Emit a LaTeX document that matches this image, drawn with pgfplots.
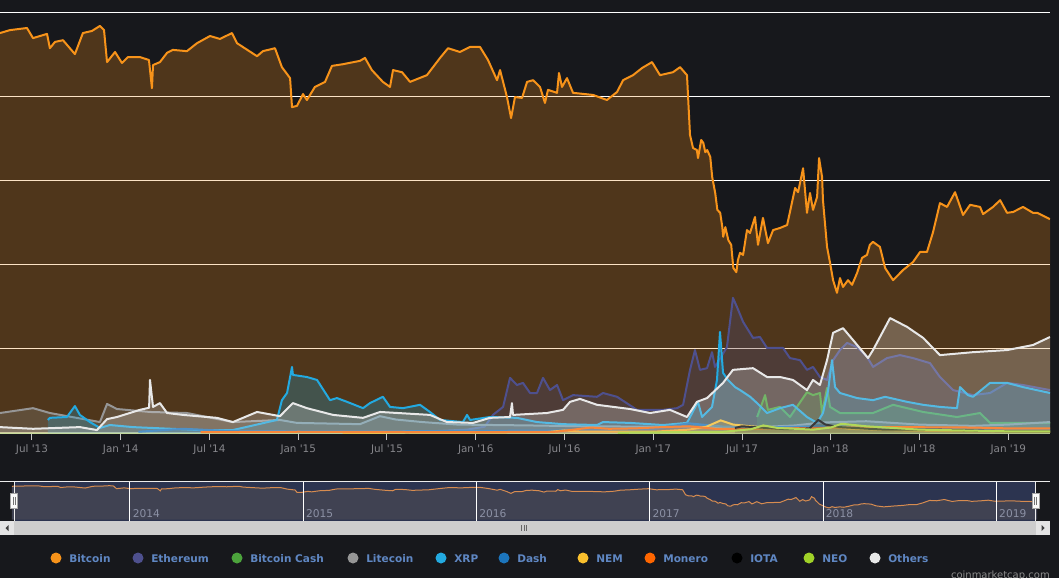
\documentclass[border=0pt]{standalone}
\usepackage{fontspec}
\setmainfont{DejaVu Sans}
\usepackage{pgfplots}
\pgfplotsset{compat=1.18}
\usepackage{pgfplotstable}

\definecolor{bg}{RGB}{23,24,28}
\definecolor{cBTC}{RGB}{247,147,26}
\definecolor{cETH}{RGB}{78,80,142}
\definecolor{cBCH}{RGB}{76,163,60}
\definecolor{cLTC}{RGB}{150,150,150}
\definecolor{cXRP}{RGB}{35,170,225}
\definecolor{cDASH}{RGB}{28,117,188}
\definecolor{cNEM}{RGB}{250,192,45}
\definecolor{cXMR}{RGB}{255,102,0}
\definecolor{cIOTA}{RGB}{0,0,0}
\definecolor{cNEO}{RGB}{160,210,40}
\definecolor{cOTH}{RGB}{232,232,232}
\definecolor{legtext}{RGB}{95,135,195}
\definecolor{ticktext}{RGB}{135,135,140}
\definecolor{tickmark}{RGB}{200,200,200}
\definecolor{navy}{RGB}{44,52,80}
\definecolor{navfill}{RGB}{64,66,82}
\definecolor{navline}{RGB}{215,140,80}
\definecolor{navtext}{RGB}{140,145,165}
\definecolor{scroll}{RGB}{205,205,205}
\definecolor{scrollbtn}{RGB}{228,228,228}
\definecolor{axisgreen}{RGB}{200,225,160}

\pgfplotstableread{
t v
2013.320 95.0
2013.376 95.7
2013.472 96.2
2013.506 93.8
2013.585 94.8
2013.601 91.4
2013.630 92.9
2013.675 93.3
2013.742 90.0
2013.787 95.0
2013.838 95.5
2013.883 96.7
2013.906 95.7
2013.923 88.1
2013.968 90.5
2014.007 87.9
2014.041 89.3
2014.108 89.3
2014.159 88.6
2014.176 81.9
2014.182 87.4
2014.221 88.1
2014.261 90.3
2014.294 91.0
2014.373 90.7
2014.430 92.6
2014.503 94.3
2014.559 93.6
2014.627 95.0
2014.655 92.6
2014.768 89.5
2014.801 90.7
2014.869 91.4
2014.908 86.9
2014.954 84.3
2014.965 77.4
2014.993 77.7
2015.027 80.5
2015.049 79.1
2015.094 82.2
2015.151 83.4
2015.190 87.2
2015.252 87.6
2015.348 88.4
2015.376 89.1
2015.415 86.2
2015.477 83.4
2015.517 82.2
2015.534 86.2
2015.585 85.7
2015.630 83.4
2015.725 85.0
2015.799 89.1
2015.844 91.4
2015.911 90.5
2015.968 91.7
2016.024 91.7
2016.069 88.6
2016.120 83.8
2016.137 86.2
2016.176 79.8
2016.199 74.8
2016.221 79.8
2016.261 79.6
2016.289 83.4
2016.323 83.8
2016.362 82.2
2016.390 78.4
2016.407 81.5
2016.458 80.8
2016.469 85.5
2016.486 82.2
2016.514 84.3
2016.548 80.8
2016.661 80.3
2016.739 79.1
2016.796 81.0
2016.830 83.8
2016.886 85.0
2016.937 86.7
2016.993 88.1
2017.038 85.0
2017.111 85.7
2017.151 86.9
2017.190 85.0
2017.207 70.8
2017.224 67.7
2017.246 67.2
2017.252 65.3
2017.270 69.6
2017.282 68.9
2017.293 66.7
2017.304 67.2
2017.321 65.6
2017.332 60.8
2017.349 57.0
2017.361 53.0
2017.377 52.3
2017.389 48.9
2017.394 46.6
2017.406 48.9
2017.423 45.8
2017.439 44.7
2017.451 39.2
2017.468 38.2
2017.477 41.1
2017.489 42.8
2017.506 42.3
2017.528 48.2
2017.545 47.5
2017.573 51.3
2017.590 44.7
2017.618 51.1
2017.646 45.1
2017.675 48.2
2017.714 48.7
2017.754 49.4
2017.770 52.5
2017.799 58.2
2017.816 57.2
2017.844 62.9
2017.866 52.3
2017.883 57.0
2017.900 53.0
2017.923 56.1
2017.934 65.3
2017.951 60.8
2017.956 55.3
2017.979 44.2
2017.996 40.4
2018.013 36.3
2018.035 33.3
2018.052 36.8
2018.069 34.7
2018.097 36.3
2018.120 35.2
2018.148 38.0
2018.176 41.6
2018.204 42.3
2018.220 44.7
2018.238 45.4
2018.277 44.2
2018.306 39.2
2018.351 36.3
2018.407 38.7
2018.463 40.6
2018.503 43.0
2018.542 43.0
2018.576 47.7
2018.615 54.6
2018.655 53.7
2018.700 57.2
2018.745 51.8
2018.785 54.2
2018.841 53.7
2018.858 52.0
2018.914 53.7
2018.954 55.3
2018.993 52.3
2019.027 52.5
2019.083 53.7
2019.139 52.3
2019.163 52.3
2019.235 50.8
}\tBTC

\pgfplotstableread{
t v
2015.600 0.2
2015.800 0.5
2015.950 0.8
2016.050 1.5
2016.097 4.3
2016.154 6.2
2016.193 13.1
2016.232 11.4
2016.266 11.9
2016.306 9.5
2016.345 9.5
2016.379 13.1
2016.418 10.2
2016.458 11.4
2016.492 7.8
2016.548 9.0
2016.683 8.6
2016.717 9.5
2016.796 8.6
2016.908 5.5
2017.055 5.5
2017.134 5.9
2017.168 6.7
2017.207 15.0
2017.235 19.7
2017.263 15.0
2017.303 15.4
2017.331 19.2
2017.348 15.7
2017.415 20.4
2017.449 32.1
2017.472 29.9
2017.506 26.4
2017.562 22.6
2017.601 22.8
2017.641 20.2
2017.731 20.2
2017.770 17.8
2017.827 17.3
2017.866 15.0
2017.900 15.7
2017.939 13.3
2017.979 12.6
2018.013 17.3
2018.052 19.7
2018.092 21.4
2018.148 20.4
2018.204 18.1
2018.238 15.7
2018.317 17.8
2018.390 18.5
2018.463 17.8
2018.559 16.6
2018.615 13.3
2018.689 10.2
2018.801 9.0
2018.897 9.5
2018.993 11.9
2019.083 11.4
2019.235 10.2
}\tETH

\pgfplotstableread{
t v
2017.585 3.8
2017.630 9.0
2017.646 5.5
2017.714 6.2
2017.770 3.8
2017.866 9.7
2017.900 9.0
2017.939 9.5
2017.951 4.75
2017.979 10.7
2017.996 6.2
2018.052 4.75
2018.238 4.75
2018.351 6.7
2018.520 5.0
2018.711 3.8
2018.841 4.75
2018.897 2.4
2018.993 2.4
2019.235 2.4
}\tBCH

\pgfplotstableread{
t v
2013.320 4.75
2013.506 5.9
2013.601 4.75
2013.883 2.6
2013.923 6.9
2013.979 5.7
2014.165 5.0
2014.373 4.75
2014.632 2.6
2014.897 3.1
2014.993 2.4
2015.348 2.1
2015.460 4.0
2015.550 3.2
2015.700 2.6
2015.900 2.0
2016.300 1.8
2016.600 1.6
2017.000 1.5
2017.300 1.5
2017.500 1.2
2017.800 1.8
2017.950 2.5
2018.200 2.8
2018.500 2.0
2018.800 1.7
2019.000 2.0
2019.235 2.6
}\tLTC

\pgfplotstableread{
t v
2013.590 3.1
2013.601 3.6
2013.697 3.8
2013.742 6.4
2013.770 4.3
2013.827 2.6
2013.883 1.2
2013.939 1.9
2014.069 1.4
2014.446 0.7
2014.632 0.7
2014.880 3.1
2014.908 7.8
2014.937 9.5
2014.965 15.7
2014.970 13.8
2015.049 13.3
2015.106 12.6
2015.179 7.8
2015.218 8.3
2015.275 7.4
2015.365 5.9
2015.404 7.1
2015.477 8.6
2015.517 6.2
2015.590 5.9
2015.686 6.7
2015.742 5.0
2015.799 3.1
2015.928 2.6
2015.951 4.3
2015.968 3.1
2016.080 3.8
2016.232 3.6
2016.345 2.6
2016.492 2.1
2016.683 1.9
2016.717 2.6
2016.869 2.4
2017.055 1.9
2017.190 2.4
2017.252 7.4
2017.275 3.8
2017.331 6.2
2017.359 12.6
2017.376 24.0
2017.393 14.3
2017.421 12.6
2017.461 10.9
2017.489 10.2
2017.546 8.6
2017.585 7.1
2017.641 4.75
2017.714 5.9
2017.787 6.7
2017.866 3.8
2017.923 2.4
2017.956 4.75
2017.985 10.2
2018.007 17.3
2018.024 10.9
2018.052 9.5
2018.148 8.3
2018.238 7.8
2018.306 8.6
2018.430 7.4
2018.520 6.7
2018.615 6.2
2018.711 5.9
2018.728 10.9
2018.773 9.0
2018.801 8.6
2018.897 11.9
2018.993 11.9
2019.083 10.9
2019.235 9.5
}\tXRP

\pgfplotstableread{
t v
2014.100 0.3
2014.350 1.0
2014.600 0.5
2015.000 0.4
2015.500 0.4
2016.000 0.5
2016.500 0.6
2017.000 0.9
2017.200 2.3
2017.400 1.5
2017.700 1.4
2017.950 1.6
2018.200 1.3
2018.600 0.9
2019.000 0.5
2019.235 0.6
}\tDASH

\pgfplotstableread{
t v
2015.250 0.1
2016.400 0.2
2016.500 0.6
2016.600 0.3
2017.000 0.3
2017.200 0.8
2017.300 1.5
2017.380 3.0
2017.450 2.0
2017.550 1.6
2017.700 1.1
2017.900 0.9
2018.020 1.5
2018.100 1.0
2018.400 0.6
2018.800 0.4
2019.235 0.3
}\tNEM

\pgfplotstableread{
t v
2014.450 0.2
2015.000 0.3
2016.000 0.2
2016.450 0.3
2016.550 0.8
2016.650 1.3
2016.750 1.0
2016.900 1.1
2017.050 1.4
2017.200 1.6
2017.350 1.0
2017.600 1.0
2017.900 1.2
2018.050 1.3
2018.400 1.4
2018.800 1.3
2019.000 1.1
2019.235 1.1
}\tXMR

\pgfplotstableread{
t v
2017.460 1.2
2017.500 1.6
2017.600 1.3
2017.750 0.9
2017.880 1.1
2017.930 3.1
2017.970 2.0
2018.050 1.4
2018.300 0.8
2018.600 0.8
2019.000 0.4
2019.235 0.4
}\tIOTA

\pgfplotstableread{
t v
2016.800 0.1
2017.400 0.3
2017.550 0.9
2017.620 1.8
2017.700 1.2
2017.900 0.8
2018.000 1.3
2018.060 2.2
2018.200 1.6
2018.500 0.8
2019.000 0.4
2019.235 0.4
}\tNEO

\pgfplotstableread{
t v
2013.320 1.4
2013.506 1.0
2013.770 1.4
2013.866 0.7
2013.923 3.3
2013.979 3.8
2014.108 5.5
2014.160 6.0
2014.165 12.6
2014.182 6.2
2014.221 7.1
2014.261 4.75
2014.351 4.3
2014.542 3.6
2014.632 2.6
2014.768 5.0
2014.897 4.0
2014.970 7.1
2015.049 5.9
2015.196 4.3
2015.365 3.6
2015.461 5.0
2015.742 4.3
2015.838 2.6
2015.985 2.4
2016.080 3.6
2016.193 3.8
2016.204 7.1
2016.210 4.3
2016.401 4.75
2016.492 5.5
2016.531 7.4
2016.587 8.1
2016.683 6.7
2016.869 5.7
2016.982 4.75
2017.094 5.5
2017.190 3.8
2017.246 7.4
2017.303 8.3
2017.393 11.9
2017.449 15.0
2017.562 15.4
2017.641 13.3
2017.714 13.3
2017.787 12.6
2017.866 10.2
2017.900 12.6
2017.939 11.4
2017.979 17.3
2018.013 23.8
2018.069 24.9
2018.125 22.1
2018.210 17.8
2018.238 19.7
2018.334 27.3
2018.430 25.2
2018.520 22.6
2018.615 18.5
2018.801 19.2
2018.993 19.7
2019.139 20.9
2019.235 22.8
}\tOTH

\newcommand{\series}[2]{%
  \addplot[draw=none, fill=#1, fill opacity=0.25] table[x=t,y=v] {#2} \closedcycle;
  \addplot[#1, line width=1.5pt, line join=round] table[x=t,y=v] {#2};
}

\begin{document}
\begin{tikzpicture}
\fill[bg] (0pt,0pt) rectangle (794.25pt,-433.5pt);
\useasboundingbox (0pt,0pt) rectangle (794.25pt,-433.5pt);

\begin{axis}[
  at={(0pt,-324.75pt)}, anchor=south west,
  width=787.5pt, height=315.75pt, scale only axis,
  xmin=2013.32, xmax=2019.235, ymin=0, ymax=100,
  axis x line*=bottom, axis y line*=left,
  x axis line style={draw=axisgreen, line width=1.5pt, -},
  y axis line style={draw=none},
  ytick={20,40,60,80,100}, yticklabels={}, ymajorgrids,
  y tick style={draw=none},
  grid style={white, line width=0.75pt},
  xtick={2013.5,2014,2014.5,2015,2015.5,2016,2016.5,2017,2017.5,2018,2018.5,2019},
  xticklabels={Jul \textquotesingle13, Jan \textquotesingle14, Jul \textquotesingle14, Jan \textquotesingle15, Jul \textquotesingle15, Jan \textquotesingle16, Jul \textquotesingle16, Jan \textquotesingle17, Jul \textquotesingle17, Jan \textquotesingle18, Jul \textquotesingle18, Jan \textquotesingle19},
  tick align=outside, major tick length=5.25pt,
  x tick style={draw=tickmark, line width=0.75pt},
  xticklabel style={text=ticktext, font=\fontsize{7.8}{9}\selectfont},
]
\series{cBTC}{\tBTC}
\series{cETH}{\tETH}
\series{cBCH}{\tBCH}
\series{cLTC}{\tLTC}
\series{cXRP}{\tXRP}
\series{cDASH}{\tDASH}
\series{cNEM}{\tNEM}
\series{cXMR}{\tXMR}
\series{cIOTA}{\tIOTA}
\series{cNEO}{\tNEO}
\series{cOTH}{\tOTH}
\end{axis}

\begin{scope}[x=0.75pt,y=-0.75pt]
\fill[navy] (14,481) rectangle (1035.5,521);
\end{scope}

\begin{axis}[
  at={(9pt,-390.75pt)}, anchor=south west,
  width=768.75pt, height=30pt, scale only axis,
  xmin=2013.32, xmax=2019.235, ymin=-4, ymax=110,
  axis line style={draw=none},
  ytick=\empty,
  xtick={2014,2015,2016,2017,2018,2019},
  xticklabels={2014,2015,2016,2017,2018,2019},
  xmajorgrids, grid style={white, line width=0.75pt},
  x tick style={draw=none},
  axis on top,
  xticklabel style={anchor=south west, text=navtext, font=\fontsize{8}{9}\selectfont, inner sep=2pt},
]
\addplot[draw=none, fill=navfill] table[x=t,y=v] {\tBTC} \closedcycle;
\addplot[navline, line width=0.75pt] table[x=t,y=v] {\tBTC};
\end{axis}

\begin{scope}[x=0.75pt,y=-0.75pt]
% navigator outline and handles
\draw[white!85!gray, line width=0.75pt] (0,481) -- (1050,481);
\draw[white!85!gray, line width=0.75pt] (14,481) -- (14,521);
\draw[white!85!gray, line width=0.75pt] (1035.5,481) -- (1035.5,521);
\foreach \hx in {14,1035.5}{
  \filldraw[fill=white!96!gray, draw=gray!70, line width=0.6pt] (\hx-3.5,493) rectangle (\hx+3.5,508);
  \draw[gray!90!black, line width=0.5pt] (\hx-1,496.5) -- (\hx-1,504.5) (\hx+1,496.5) -- (\hx+1,504.5);
}
% scrollbar
\fill[scroll] (0,521) rectangle (1050,535);
\fill[scrollbtn] (0,521) rectangle (14,535);
\fill[scrollbtn] (1036,521) rectangle (1050,535);
\fill[black!75] (5.5,528) -- (8.5,525) -- (8.5,531) -- cycle;
\fill[black!75] (1044.5,528) -- (1041.5,525) -- (1041.5,531) -- cycle;
\draw[black!60, line width=0.6pt] (521.5,525) -- (521.5,531) (524,525) -- (524,531) (526.5,525) -- (526.5,531);
% legend
\foreach \lx/\lc/\lt in {56/cBTC/Bitcoin, 138/cETH/Ethereum, 237/cBCH/Bitcoin Cash, 353/cLTC/Litecoin, 441/cXRP/XRP, 504/cDASH/Dash, 583/cNEM/NEM, 650/cXMR/Monero, 737/cIOTA/IOTA, 809/cNEO/NEO, 875/cOTH/Others}{
  \fill[\lc] (\lx,558) circle (5.5);
  \node[anchor=base west, inner sep=0pt, text=legtext, font=\fontsize{7.9}{9}\bfseries] at (\lx+13,562) {\lt};
}
\node[anchor=north east, inner sep=0pt, text=gray!90, font=\fontsize{7.5}{9}\selectfont] at (1050,571) {coinmarketcap.com};
\end{scope}
\end{tikzpicture}
\end{document}
